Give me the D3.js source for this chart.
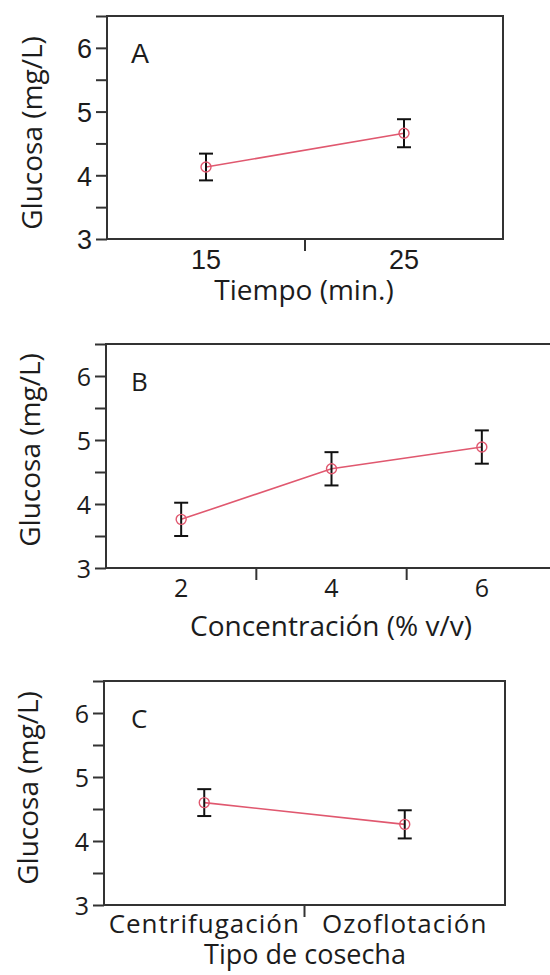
<!DOCTYPE html>
<html>
<head>
<meta charset="utf-8">
<script src="https://cdn.jsdelivr.net/npm/d3@7"></script>
<style>
  html, body { margin: 0; padding: 0; background: #fff; }
  svg { display: block; }
</style>
</head>
<body>
<svg id="chart" width="550" height="975"></svg>
<script>
// ---- data ----
const yTickValues = [3, 3.5, 4, 4.5, 5, 5.5, 6, 6.5];
const yDomain = [3, 6.5];
const yTitle = "Glucosa (mg/L)";

const tiempoCats = ["15", "25"];
const tiempoMeans = [4.13, 4.66];
const tiempoErr = [0.21, 0.22];

const concCats = ["2", "4", "6"];
const concMeans = [3.76, 4.55, 4.89];
const concErr = [0.26, 0.26, 0.26];

const cosechaCats = ["Centrifugación", "Ozoflotación"];
const cosechaMeans = [4.60, 4.26];
const cosechaErr = [0.21, 0.22];

const panelLetters = ["A", "B", "C"];
const xTitles = ["Tiempo (min.)", "Concentración (% v/v)", "Tipo de cosecha"];

// ---- layout ----
const panels = [
  { letter: panelLetters[0], cats: tiempoCats, means: tiempoMeans, err: tiempoErr, xTitle: xTitles[0],
    left: 107, right: 503, top: 16, bottom: 239, tickFont: "'Liberation Sans', Arial, sans-serif", tickSize: 27,
    letterFont: "'Liberation Sans', Arial, sans-serif", letterSize: 27,
    tickBaseline: 269, titleX: 304, titleY: 300, yTitleX: 42, yTitleY: 133, catSize: 27, catSpacing: 0, titleSize: 28 },
  { letter: panelLetters[1], cats: concCats, means: concMeans, err: concErr, xTitle: xTitles[1],
    left: 106, right: 557, top: 344, bottom: 568, tickFont: "'Open Sans', sans-serif", tickSize: 25,
    letterFont: "'Open Sans', sans-serif", letterSize: 26,
    tickBaseline: 597, titleX: 331, titleY: 636, yTitleX: 40, yTitleY: 450, catSize: 25, catSpacing: 0, titleSize: 28 },
  { letter: panelLetters[2], cats: cosechaCats, means: cosechaMeans, err: cosechaErr, xTitle: xTitles[2],
    left: 104, right: 505, top: 681, bottom: 905, tickFont: "'Open Sans', sans-serif", tickSize: 25,
    letterFont: "'Open Sans', sans-serif", letterSize: 26,
    tickBaseline: 933, titleX: 305, titleY: 964, yTitleX: 38, yTitleY: 788, catSize: 26, catSpacing: 1, titleSize: 27 }
];

const textColor = "#1c1c1c";
const frameColor = "#333";
const redColor = "#e0586f";
const titleFont = "'Open Sans', sans-serif";

const svg = d3.select("#chart");

panels.forEach(p => {
  const g = svg.append("g");
  const y = d3.scaleLinear().domain(yDomain).range([p.bottom, p.top]);
  const xb = d3.scaleBand().domain(p.cats).range([p.left, p.right]).paddingInner(0).paddingOuter(0);
  const xc = d => xb(d) + xb.bandwidth() / 2;

  // frame
  g.append("rect")
    .attr("x", p.left).attr("y", p.top)
    .attr("width", p.right - p.left).attr("height", p.bottom - p.top)
    .attr("fill", "none").attr("stroke", frameColor).attr("stroke-width", 2);

  // y axis
  const yAxis = d3.axisLeft(y)
    .tickValues(yTickValues)
    .tickSize(11)
    .tickPadding(4)
    .tickFormat(d => Number.isInteger(d) ? d3.format("d")(d) : "");
  const ya = g.append("g").attr("transform", `translate(${p.left},0)`).call(yAxis);
  ya.select(".domain").remove();
  ya.selectAll(".tick line").attr("stroke", frameColor).attr("stroke-width", 2);
  ya.selectAll(".tick text")
    .attr("fill", textColor)
    .style("font-family", p.tickFont)
    .style("font-size", p.tickSize + "px")
    .attr("dy", "0.36em");

  // x boundary ticks
  const boundaries = p.cats.slice(1).map(c => xb(c));
  g.selectAll(".xtick").data(boundaries).enter().append("line")
    .attr("x1", d => d).attr("x2", d => d)
    .attr("y1", p.bottom).attr("y2", p.bottom + 12)
    .attr("stroke", frameColor).attr("stroke-width", 2);

  // x labels
  g.selectAll(".xlab").data(p.cats).enter().append("text")
    .attr("x", d => xc(d))
    .attr("y", p.tickBaseline)
    .attr("text-anchor", "middle")
    .attr("fill", textColor)
    .style("font-family", p.tickFont)
    .style("font-size", (p.cats[0].length > 3 ? p.catSize : p.tickSize) + "px")
    .style("letter-spacing", p.catSpacing + "px")
    .text(d => d);

  // x title
  g.append("text")
    .attr("x", p.titleX).attr("y", p.titleY)
    .attr("text-anchor", "middle")
    .attr("fill", textColor)
    .style("font-family", titleFont)
    .style("font-size", p.titleSize + "px")
    .text(p.xTitle);

  // y title
  g.append("text")
    .attr("transform", `translate(${p.yTitleX},${p.yTitleY}) rotate(-90)`)
    .attr("text-anchor", "middle")
    .attr("fill", textColor)
    .style("font-family", titleFont)
    .style("font-size", "28px")
    .text(yTitle);

  // panel letter
  g.append("text")
    .attr("x", 131).attr("y", p.top + 47)
    .attr("fill", textColor)
    .style("font-family", p.letterFont)
    .style("font-size", p.letterSize + "px")
    .text(p.letter);

  const data = p.cats.map((c, i) => ({ c, m: p.means[i], e: p.err[i] }));

  // line
  const line = d3.line().x(d => xc(d.c)).y(d => y(d.m));
  g.append("path").datum(data)
    .attr("d", line)
    .attr("fill", "none")
    .attr("stroke", redColor)
    .attr("stroke-width", 1.6);

  // error bars
  const cap = 7;
  const eb = g.selectAll(".eb").data(data).enter().append("g");
  eb.append("line")
    .attr("x1", d => xc(d.c)).attr("x2", d => xc(d.c))
    .attr("y1", d => y(d.m - d.e)).attr("y2", d => y(d.m + d.e))
    .attr("stroke", "#111").attr("stroke-width", 2);
  eb.append("line")
    .attr("x1", d => xc(d.c) - cap).attr("x2", d => xc(d.c) + cap)
    .attr("y1", d => y(d.m + d.e)).attr("y2", d => y(d.m + d.e))
    .attr("stroke", "#111").attr("stroke-width", 2);
  eb.append("line")
    .attr("x1", d => xc(d.c) - cap).attr("x2", d => xc(d.c) + cap)
    .attr("y1", d => y(d.m - d.e)).attr("y2", d => y(d.m - d.e))
    .attr("stroke", "#111").attr("stroke-width", 2);

  // markers
  g.selectAll(".pt").data(data).enter().append("circle")
    .attr("cx", d => xc(d.c)).attr("cy", d => y(d.m))
    .attr("r", 5)
    .attr("fill", "none")
    .attr("stroke", redColor)
    .attr("stroke-width", 1.4);
});
</script>
</body>
</html>
